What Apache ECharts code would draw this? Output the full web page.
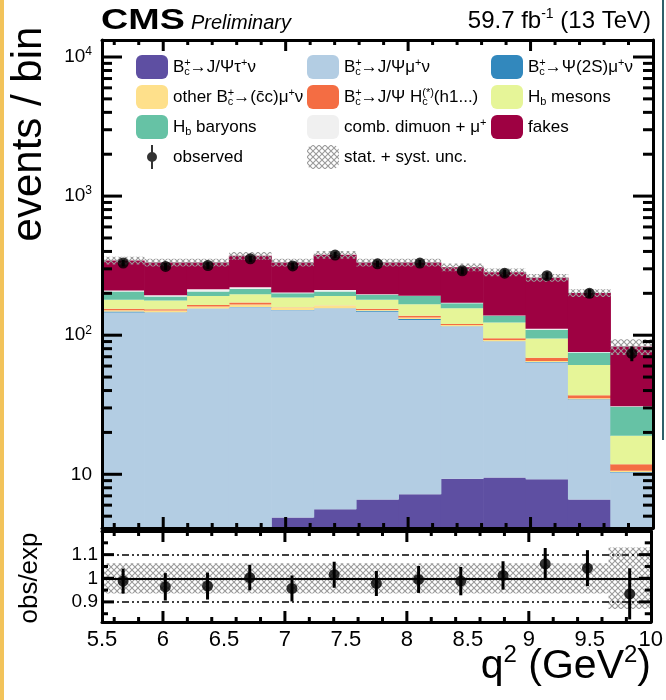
<!DOCTYPE html>
<html>
<head>
<meta charset="utf-8">
<script src="https://cdn.jsdelivr.net/npm/echarts@6/dist/echarts.min.js"></script>
<style>
  html, body { margin: 0; padding: 0; background: #fff; }
  #chart { width: 666px; height: 700px; }
</style>
</head>
<body>
<div id="chart"></div>
<script>
// q^2 binning: 13 equal bins between 5.5 and 10 GeV^2
const q2Min = 5.5;
const q2Max = 10;
const binCentres = ['5.67', '6.02', '6.37', '6.71', '7.06', '7.40', '7.75', '8.10', '8.44', '8.79', '9.13', '9.48', '9.83'];

// expected yields per bin, one array per process (stacked bottom to top)
const tauNu       = [1.0, 1.4, 2.0, 2.8, 4.9, 5.6, 6.6, 7.2, 9.3, 9.5, 9.2, 6.6, 3.0];
const jpsiMuNu    = [144.5, 144.1, 152.6, 156.0, 146.4, 149.9, 140.7, 121.6, 106.0, 80.5, 54.4, 27.7, 7.3];
const psi2sMuNu   = [2.5, 0.8, 0.9, 0.8, 0.7, 0.7, 2.3, 2.2, 0.7, 0.6, 0.5, 0.3, 0.1];
const otherCcMuNu = [3.4, 4.1, 5.2, 6.4, 6.0, 6.3, 2.4, 3.0, 2.5, 1.9, 1.0, 0.6, 0.2];
const jpsiHc      = [3.2, 3.3, 4.3, 5.8, 0.8, 0.8, 2.6, 3.7, 2.0, 2.6, 3.7, 1.8, 1.2];
const hbMesons    = [24.9, 23.7, 26.7, 25.2, 27.8, 28.4, 24.9, 29.3, 35.9, 28.2, 25.9, 24.0, 7.1];
const hbBaryons   = [26.5, 12.2, 14.3, 18.0, 13.9, 14.3, 15.5, 24.7, 13.4, 14.4, 14.6, 14.0, 11.7];
const combDimuon  = [3.5, 4.4, 8.0, 6.0, 2.0, 5.0, 2.3, 0.8, 1.2, 0.8, 1.8, 0.8, 0.2];
const fakes       = [134.5, 139.0, 119.0, 151.0, 130.5, 167.0, 135.7, 140.5, 137.0, 145.5, 148.0, 125.2, 52.0];

// data
const observed    = [330, 312, 317, 354, 315, 377, 326, 330, 290, 279, 268, 200, 74];
const observedErr = [18, 18, 18, 19, 18, 19, 18, 18, 17, 17, 16, 14, 9];

// ratio panel
const ratio       = [0.988, 0.964, 0.967, 1.003, 0.957, 1.015, 0.978, 0.995, 0.988, 1.012, 1.061, 1.043, 0.934];
const ratioErr    = [0.053, 0.058, 0.057, 0.054, 0.055, 0.055, 0.053, 0.057, 0.060, 0.060, 0.067, 0.076, 0.108];
const relUnc      = [0.064, 0.064, 0.064, 0.064, 0.064, 0.064, 0.064, 0.064, 0.064, 0.064, 0.064, 0.064, 0.130];

// tick labels and tick marks
const xLabelValues = [5.5, 6, 6.5, 7, 7.5, 8, 8.5, 9, 9.5, 10];
const xMajorTicks = [6, 7, 8, 9];
const xMinorTicks = [5.6, 5.8, 6.2, 6.4, 6.6, 6.8, 7.2, 7.4, 7.6, 7.8, 8.2, 8.4, 8.6, 8.8, 9.2, 9.4, 9.6, 9.8];
const yLabelValues = [10, 100, 1000, 10000];
const yMinorTicks = [5, 6, 7, 8, 9, 20, 30, 40, 50, 60, 70, 80, 90, 200, 300, 400, 500, 600, 700, 800, 900,
                     2000, 3000, 4000, 5000, 6000, 7000, 8000, 9000];
const ratioLabelValues = [0.9, 1, 1.1];
const ratioMinorTicks = [0.85, 0.95, 1.05, 1.15];

const yMin = 4.11, yMax = 13250;
const rMin = 0.815, rMax = 1.2;
const binWidth = (q2Max - q2Min) / binCentres.length;

const FONT = 'Liberation Sans, Arial, Helvetica, sans-serif';

const processes = [
  { name: 'tauNu',    data: tauNu,       color: '#5e4fa2' },
  { name: 'jpsiMuNu', data: jpsiMuNu,    color: '#b3cde3' },
  { name: 'psi2s',    data: psi2sMuNu,   color: '#3288bd' },
  { name: 'otherCc',  data: otherCcMuNu, color: '#fee08b' },
  { name: 'jpsiHc',   data: jpsiHc,      color: '#f46d43' },
  { name: 'hbMes',    data: hbMesons,    color: '#e6f598' },
  { name: 'hbBar',    data: hbBaryons,   color: '#66c2a5' },
  { name: 'comb',     data: combDimuon,  color: '#f0f0f0' },
  { name: 'fakes',    data: fakes,       color: '#9e0142' }
];

const total = binCentres.map((_, i) => processes.reduce((s, p) => s + p.data[i], 0));

// crossed hatch used for the uncertainty bands
function hatchPattern(color) {
  const c = document.createElement('canvas');
  c.width = 6; c.height = 6;
  const g = c.getContext('2d');
  g.strokeStyle = color;
  g.lineWidth = 1.1;
  g.beginPath();
  g.moveTo(0, 0); g.lineTo(6, 6);
  g.moveTo(6, 0); g.lineTo(0, 6);
  g.stroke();
  return { image: c, repeat: 'repeat' };
}
const hatch = hatchPattern('#9a9a9a');

// legend labels with sub/superscripts
const rich = {
  t:   { fontFamily: FONT, fontSize: 17, color: '#000', lineHeight: 24 },
  sp:  { fontFamily: FONT, fontSize: 11, color: '#000', verticalAlign: 'top', lineHeight: 24, padding: [2, 0, 0, 0] },
  sp0: { fontFamily: FONT, fontSize: 11, color: '#000', verticalAlign: 'top', lineHeight: 24, width: 0, padding: [2, 0, 0, 0] },
  sb:  { fontFamily: FONT, fontSize: 11, color: '#000', verticalAlign: 'bottom', lineHeight: 24, padding: [0, 0, 2, 0] },
  sb0: { fontFamily: FONT, fontSize: 11, color: '#000', verticalAlign: 'bottom', lineHeight: 24, width: 0, padding: [0, 0, 2, 0] }
};
const Bc = '{t|B}{sp0|+}{sb|c}';
const legendText = {
  tauNu:    Bc + '{t|→J/Ψτ}{sp|+}{t|ν}',
  jpsiMuNu: Bc + '{t|→J/Ψμ}{sp|+}{t|ν}',
  psi2s:    Bc + '{t|→Ψ(2S)μ}{sp|+}{t|ν}',
  otherCc:  '{t|other }' + Bc + '{t|→(c\u0304c)μ}{sp|+}{t|ν}',
  jpsiHc:   Bc + '{t|→J/Ψ H}{sb0|c}{sp|(*)}{t|(h1...)}',
  hbMes:    '{t|H}{sb|b}{t| mesons}',
  hbBar:    '{t|H}{sb|b}{t| baryons}',
  comb:     '{t|comb. dimuon + μ}{sp|+}',
  fakes:    '{t|fakes}',
  observed: '{t|observed}',
  unc:      '{t|stat. + syst. unc.}'
};
const observedIcon = 'path://M4 0H6V24H4Z M5 7A5 5 0 1 1 5 17A5 5 0 1 1 5 7Z';

function legendCol(left, items) {
  return {
    orient: 'vertical', left: left, top: 55, padding: 0,
    itemWidth: 32, itemHeight: 24, itemGap: 6,
    selectedMode: false,
    data: items.map(n => n === 'observed' ? { name: n, icon: observedIcon } : { name: n, icon: 'roundRect' }),
    formatter: n => legendText[n],
    textStyle: { rich: rich, fontFamily: FONT, fontSize: 17, color: '#000' }
  };
}

const frameLine = { show: true, onZero: false, lineStyle: { color: '#000', width: 3 } };

function xAxisFor(grid, pos, labels) {
  return {
    type: 'value', gridIndex: grid, position: pos, min: q2Min, max: q2Max, z: 10,
    axisLine: frameLine, splitLine: { show: false }, axisTick: { show: false },
    axisLabel: labels ? {
      show: true, customValues: xLabelValues, fontFamily: FONT, fontSize: 22, color: '#000', margin: 7,
      formatter: v => String(v)
    } : { show: false }
  };
}

function yLogAxis(pos, labels) {
  return {
    type: 'log', logBase: 10, gridIndex: 0, position: pos, min: yMin, max: yMax, z: 10,
    axisLine: frameLine, splitLine: { show: false }, axisTick: { show: false }, minorTick: { show: false },
    axisLabel: labels ? {
      show: true, customValues: yLabelValues, margin: 10,
      formatter: v => {
        const k = Math.round(Math.log10(v));
        return k === 1 ? '{b|10}' : '{b|10}{s|' + k + '}';
      },
      rich: {
        b: { fontFamily: FONT, fontSize: 19, color: '#000', lineHeight: 22 },
        s: { fontFamily: FONT, fontSize: 12, color: '#000', verticalAlign: 'top', lineHeight: 22 }
      }
    } : { show: false }
  };
}

function yRatioAxis(pos, labels) {
  return {
    type: 'value', gridIndex: 1, position: pos, min: rMin, max: rMax, z: 10,
    axisLine: frameLine, splitLine: { show: false }, axisTick: { show: false },
    axisLabel: labels ? {
      show: true, customValues: ratioLabelValues, margin: 4, fontFamily: FONT, fontSize: 19, color: '#000',
      formatter: v => String(v)
    } : { show: false }
  };
}

// band drawn as a hatched rectangle per bin, ends given in data values
function bandItem(params, api) {
  const i = api.value(0);
  const lo = api.coord([i, api.value(1)]);
  const hi = api.coord([i, api.value(2)]);
  const w = api.size([1, 0])[0];
  return {
    type: 'rect',
    shape: { x: lo[0] - w / 2, y: hi[1], width: w, height: lo[1] - hi[1] },
    style: { fill: hatch }
  };
}

function errorBarItem(params, api) {
  const i = api.value(0);
  const lo = api.coord([i, api.value(1)]);
  const hi = api.coord([i, api.value(2)]);
  return {
    type: 'line',
    shape: { x1: lo[0], y1: lo[1], x2: hi[0], y2: hi[1] },
    style: { stroke: '#000', lineWidth: 3 }
  };
}

// inward tick marks: rows are [0, y value, side, length, q2 value]
// side 0 bottom, 1 top, 2 left, 3 right
function tickData(xMaj, xMinT, yMaj, yMinT, lx, sx, ly, sy, y0, y1) {
  const d = [];
  xMaj.forEach(q => { d.push([0, y0, 0, lx, q]); d.push([0, y1, 1, lx, q]); });
  xMinT.forEach(q => { d.push([0, y0, 0, sx, q]); d.push([0, y1, 1, sx, q]); });
  yMaj.forEach(v => { d.push([0, v, 2, ly, q2Min]); d.push([0, v, 3, ly, q2Min]); });
  yMinT.forEach(v => { d.push([0, v, 2, sy, q2Min]); d.push([0, v, 3, sy, q2Min]); });
  return d;
}
function tickItem(params, api) {
  const side = api.value(2), len = api.value(3), q = api.value(4);
  const p0 = api.coord([0, api.value(1)]);
  const band = api.size([1, 0])[0];
  const left = p0[0] - band / 2;
  let x, dx = 0, dy = 0;
  if (side === 0 || side === 1) {
    x = left + (q - q2Min) / binWidth * band;
    dy = side === 0 ? -len : len;
  } else if (side === 2) {
    x = left; dx = len;
  } else {
    x = left + binCentres.length * band; dx = -len;
  }
  return {
    type: 'line',
    shape: { x1: x, y1: p0[1], x2: x + dx, y2: p0[1] + dy },
    style: { stroke: '#000', lineWidth: 3 }
  };
}

const series = [];
processes.forEach(p => {
  series.push({
    name: p.name, type: 'bar', stack: 'expected', xAxisIndex: 0, yAxisIndex: 0,
    data: p.data, barWidth: 43, clip: true,
    itemStyle: { color: p.color }, emphasis: { disabled: true }, silent: true
  });
});
series.push({
  name: 'unc', type: 'custom', xAxisIndex: 0, yAxisIndex: 0, z: 4, silent: true,
  itemStyle: { color: hatch },
  renderItem: bandItem,
  data: total.map((t, i) => [i, t * (1 - relUnc[i]), t * (1 + relUnc[i])])
});
series.push({
  name: 'obsErr', type: 'custom', xAxisIndex: 0, yAxisIndex: 0, z: 5, silent: true,
  renderItem: errorBarItem,
  data: observed.map((v, i) => [i, v - observedErr[i], v + observedErr[i]])
});
series.push({
  name: 'observed', type: 'scatter', xAxisIndex: 0, yAxisIndex: 0, z: 6, silent: true,
  symbol: 'circle', symbolSize: 11, itemStyle: { color: '#000' },
  data: observed.map((v, i) => [i, v])
});
series.push({
  name: 'mainTicks', type: 'custom', xAxisIndex: 0, yAxisIndex: 0, z: 5, silent: true,
  renderItem: tickItem,
  data: tickData(xMajorTicks, xMinorTicks, yLabelValues, yMinorTicks, 11, 5, 20, 10, yMin, yMax)
});
// ratio panel
series.push({
  name: 'ratioBand', type: 'custom', xAxisIndex: 3, yAxisIndex: 2, z: 3, silent: true,
  renderItem: bandItem,
  data: relUnc.map((u, i) => [i, 1 - u, 1 + u])
});
series.push({
  name: 'ratioErr', type: 'custom', xAxisIndex: 3, yAxisIndex: 2, z: 5, silent: true,
  renderItem: errorBarItem,
  data: ratio.map((r, i) => [i, r - ratioErr[i], r + ratioErr[i]])
});
series.push({
  name: 'ratio', type: 'scatter', xAxisIndex: 3, yAxisIndex: 2, z: 6, silent: true,
  symbol: 'circle', symbolSize: 11, itemStyle: { color: '#000' },
  data: ratio.map((r, i) => [i, r]),
  markLine: {
    silent: true, symbol: 'none', label: { show: false }, z: 4,
    data: [
      { yAxis: 1, lineStyle: { color: '#000', width: 2, type: 'solid' } },
      { yAxis: 1.1, lineStyle: { color: '#000', width: 1.5, type: [7, 3, 2, 3, 2, 3] } },
      { yAxis: 0.9, lineStyle: { color: '#000', width: 1.5, type: [7, 3, 2, 3, 2, 3] } }
    ]
  }
});
series.push({
  name: 'ratioTicks', type: 'custom', xAxisIndex: 3, yAxisIndex: 2, z: 5, silent: true,
  renderItem: tickItem,
  data: tickData(xMajorTicks, xMinorTicks, ratioLabelValues, ratioMinorTicks, 11, 5, 12, 6, rMin, rMax)
});

const option = {
  animation: false,
  backgroundColor: '#fff',
  grid: [
    { left: 102, top: 40, width: 551, height: 488 },
    { left: 102, top: 531, width: 551, height: 91 }
  ],
  xAxis: [
    { type: 'category', gridIndex: 0, data: binCentres, show: false, boundaryGap: true },
    xAxisFor(0, 'bottom', false),
    xAxisFor(0, 'top', false),
    { type: 'category', gridIndex: 1, data: binCentres, show: false, boundaryGap: true },
    xAxisFor(1, 'bottom', true),
    xAxisFor(1, 'top', false)
  ],
  yAxis: [
    yLogAxis('left', true),
    yLogAxis('right', false),
    yRatioAxis('left', true),
    yRatioAxis('right', false)
  ],
  legend: [
    legendCol(136, ['tauNu', 'otherCc', 'hbBar', 'observed']),
    legendCol(307, ['jpsiMuNu', 'jpsiHc', 'comb', 'unc']),
    legendCol(491, ['psi2s', 'hbMes', 'fakes'])
  ],
  graphic: [
    { type: 'rect', left: 0, top: 0, shape: { width: 4, height: 700 }, style: { fill: '#f2c35a' } },
    { type: 'rect', left: 662, top: 0, shape: { width: 2, height: 440 }, style: { fill: '#2f5f6a' } },
    { type: 'text', x: 101, y: 6, scaleX: 1.3, style: { text: 'CMS', font: 'bold 29px ' + FONT, fill: '#000' } },
    { type: 'text', x: 191, y: 13, style: { text: 'Preliminary', font: 'italic 20px ' + FONT, fill: '#000' } },
    { type: 'text', x: 651, y: 7, style: {
        text: '{a|59.7 fb}{s|-1}{a| (13 TeV)}', align: 'right', fill: '#000',
        rich: { a: { fontFamily: FONT, fontSize: 24, lineHeight: 28 },
                s: { fontFamily: FONT, fontSize: 14, lineHeight: 28, verticalAlign: 'top' } } } },
    { type: 'text', x: 29, y: 134, rotation: Math.PI / 2, style: {
        text: 'events / bin', font: '42px ' + FONT, fill: '#000', align: 'center', verticalAlign: 'middle' } },
    { type: 'text', x: 30, y: 578, rotation: Math.PI / 2, style: {
        text: 'obs/exp', font: '26px ' + FONT, fill: '#000', align: 'center', verticalAlign: 'middle' } },
    { type: 'text', x: 651, y: 643, style: {
        text: '{a|q}{s|2}{a| (GeV}{s|2}{a|)}', align: 'right', fill: '#000',
        rich: { a: { fontFamily: FONT, fontSize: 41, lineHeight: 48 },
                s: { fontFamily: FONT, fontSize: 24, lineHeight: 48, verticalAlign: 'top' } } } }
  ],
  series: series
};

const chart = echarts.init(document.getElementById('chart'), null, { renderer: 'canvas' });
chart.setOption(option);
</script>
</body>
</html>
